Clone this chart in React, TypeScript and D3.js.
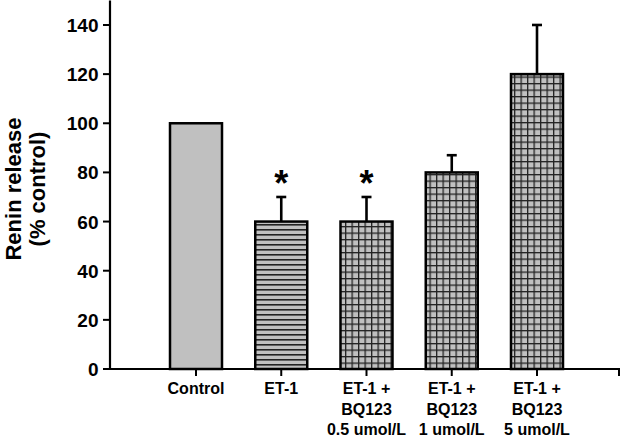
import React from "react";
import * as d3 from "d3";

const categories = ["Control", "ET-1", "ET-1 + BQ123 0.5", "ET-1 + BQ123 1", "ET-1 + BQ123 5"];
const labelLines = [
  ["Control"],
  ["ET-1"],
  ["ET-1 +", "BQ123", "0.5 umol/L"],
  ["ET-1 +", "BQ123", "1 umol/L"],
  ["ET-1 +", "BQ123", "5 umol/L"],
];
const values = [100, 60, 60, 80, 120];
const errors = [0, 10, 10, 7, 20];
const significant = [false, true, true, false, false];
const fills = ["solid", "hlines", "grid", "grid", "grid"];
const yTicks = [0, 20, 40, 60, 80, 100, 120, 140];

export default function App() {
  const W = 625, H = 442;
  const axisX = 110, axisY = 369, axisEnd = 620;
  const y = d3.scaleLinear().domain([0, 150]).range([axisY, 0.4]);
  const x = d3.scalePoint<string>().domain(categories).range([196, 537]);
  const barW = 52;
  const font = "'Liberation Sans', Arial, sans-serif";
  const fillFor = (f: string) =>
    f === "solid" ? "#c0c0c0" : f === "hlines" ? "url(#hlines)" : "url(#grid)";

  return (
    <svg width={W} height={H} style={{ position: "absolute", left: 0, top: 0 }} fontFamily={font}>
      <defs>
        <pattern id="hlines" patternUnits="userSpaceOnUse" width={8} height={5} y={axisY}>
          <rect width={8} height={5} fill="#c0c0c0" />
          <rect y={0} width={8} height={1.6} fill="#222" />
        </pattern>
        <pattern id="grid" patternUnits="userSpaceOnUse" width={6.5} height={6.5} x={0.5} y={axisY}>
          <rect width={6.5} height={6.5} fill="#c0c0c0" />
          <rect x={0} y={0} width={1.3} height={6.5} fill="#222" />
          <rect x={0} y={0} width={6.5} height={1.3} fill="#222" />
        </pattern>
      </defs>
      <rect width={W} height={H} fill="#fff" />

      {categories.map((c, i) => {
        const cx = x(c)!;
        return (
          <g key={c}>
            {errors[i] > 0 && (
              <g stroke="#000" strokeWidth={2.6}>
                <line x1={cx} x2={cx} y1={y(values[i])} y2={y(values[i] + errors[i])} />
                <line x1={cx - 5} x2={cx + 5} y1={y(values[i] + errors[i])} y2={y(values[i] + errors[i])} />
              </g>
            )}
            <rect
              x={cx - barW / 2}
              y={y(values[i])}
              width={barW}
              height={axisY - y(values[i])}
              fill={fillFor(fills[i])}
              stroke="#000"
              strokeWidth={2.5}
            />
            {significant[i] && (
              <text x={cx} y={y(values[i] + errors[i]) - 1} textAnchor="middle" fontSize={36} fontWeight="bold">
                *
              </text>
            )}
          </g>
        );
      })}

      {/* y axis */}
      <line x1={axisX} x2={axisX} y1={y(150)} y2={axisY + 1} stroke="#000" strokeWidth={2.2} />
      {yTicks.map((t) => (
        <g key={t}>
          <line x1={axisX - 7} x2={axisX} y1={y(t)} y2={y(t)} stroke="#000" strokeWidth={2} />
          <text x={98.5} y={y(t) + 7} textAnchor="end" fontSize={19} fontWeight="bold">
            {t}
          </text>
        </g>
      ))}

      {/* x axis */}
      <line x1={axisX - 1} x2={axisEnd} y1={axisY} y2={axisY} stroke="#000" strokeWidth={2.2} />
      {categories.map((c) => (
        <line key={c} x1={x(c)!} x2={x(c)!} y1={axisY} y2={axisY + 7} stroke="#000" strokeWidth={2} />
      ))}
      <line x1={axisEnd - 1} x2={axisEnd - 1} y1={axisY} y2={axisY + 7} stroke="#000" strokeWidth={2} />
      {categories.map((c, i) =>
        labelLines[i].map((l, j) => (
          <text key={c + j} x={x(c)!} y={394 + j * 20.5} textAnchor="middle" fontSize={16} fontWeight="bold">
            {l}
          </text>
        ))
      )}

      <text transform="translate(21,189) rotate(-90)" textAnchor="middle" fontSize={22} fontWeight="bold">
        <tspan x={0} dy={0}>Renin release</tspan>
        <tspan x={0} dy={23.5}>(% control)</tspan>
      </text>
    </svg>
  );
}
